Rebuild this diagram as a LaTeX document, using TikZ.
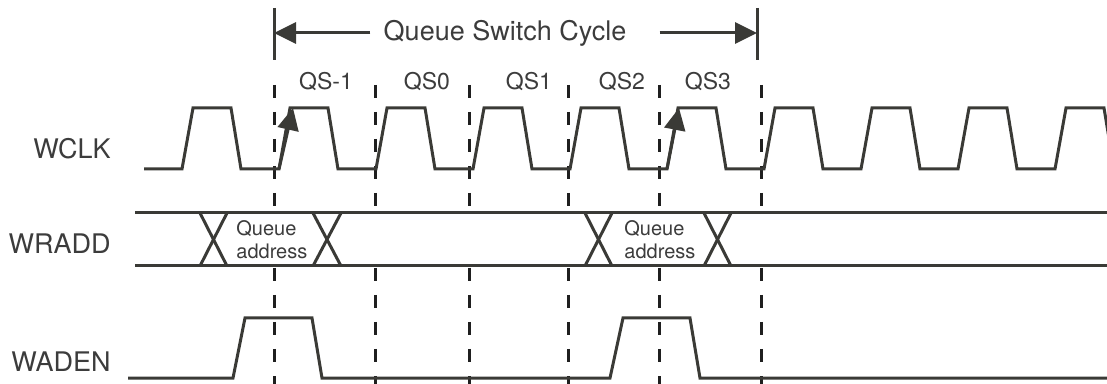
\documentclass[tikz,border=0pt]{standalone}
\usepackage{fontspec}
\setmainfont{TeX Gyre Heros}
\usetikzlibrary{arrows.meta, positioning, calc}
\definecolor{inkgray}{HTML}{3A3A36}
\definecolor{txtgray}{HTML}{3C3C3C}

\begin{document}
\begin{tikzpicture}[
      x=0.5pt, y=-0.5pt,
      wave/.style={draw=inkgray, line width=1.5pt, line join=miter},
      guide/.style={draw=black!88, line width=1.5pt, dash pattern=on 6.5pt off 7pt},
      signame/.style={anchor=east, inner sep=0pt, text=txtgray, font=\fontsize{13.5}{16}\selectfont},
      title/.style={anchor=base, inner sep=0pt, text=txtgray, font=\fontsize{13.5}{16}\selectfont},
      slot/.style={anchor=base, inner sep=0pt, text=txtgray, font=\fontsize{11.5}{14}\selectfont},
      busval/.style={anchor=west, inner sep=0pt, align=left, text=txtgray, font=\fontsize{10}{11.5}\selectfont},
      arrow/.style={wave, -{Triangle[length=11pt, width=10.5pt]}}
    ]
    \clip (0,0) rectangle (1107,384);

    \node[signame] (wclk) at (111,149) {WCLK};
    \node[signame] (wradd) at (111,244) {WRADD};
    \node[signame] (waden) at (111,362) {WADEN};

    \node[title] (cycle) at (505,41) {Queue Switch Cycle};
    \coordinate (cycL) at (274,33);
    \coordinate (cycR) at (757,33);
    \draw[wave] (274,8) -- (274,60);
    \draw[wave] (757,8) -- (757,60);
    \draw[arrow] ([xshift=-6.5pt]cycle.west |- cycL) -- (cycL);
    \draw[arrow] ([xshift=16.5pt]cycle.east |- cycR) -- (cycR);

    \node[slot] (qsm1) at (326,90) {QS-1};
    \node[slot] (qs0) at (427,90) {QS0};
    \node[slot] (qs1) at (529,90) {QS1};
    \node[slot] (qs2) at (622,90) {QS2};
    \node[slot] (qs3) at (708,90) {QS3};

    \foreach \x in {274,375,469,568,659,761} {
      \draw[guide] (\x,85) -- (\x,210);
      \draw[guide] (\x,268) -- (\x,384);
    }

    \draw[wave] (144,169) foreach \k in {0,...,9} {
      -- ({182+97*\k},169) -- ({193+97*\k},108) -- ({231+97*\k},108) -- ({241+97*\k},169)
    };
    \coordinate (rise1) at (279,169);
    \coordinate (rise1tip) at (293,108);
    \coordinate (rise2) at (667,169);
    \coordinate (rise2tip) at (679,108);
    \draw[arrow] (rise1) -- (rise1tip);
    \draw[arrow] (rise2) -- (rise2tip);

    \draw[wave] (135,213) -- (1107,213);
    \draw[wave] (135,266) -- (1107,266);
    \foreach \a/\b in {200/227, 313/341, 585/612, 704/731} {
      \draw[wave] (\a,213) -- (\b,266);
      \draw[wave] (\a,266) -- (\b,213);
    }
    \node[busval] (qaddr1) at (236,240) {Queue\\address};
    \node[busval] (qaddr2) at (624,240) {Queue\\address};

    \draw[wave] (128,378) -- (233,378) -- (245,318) -- (312,318) -- (322,378)
      -- (610,378) -- (623,318) -- (690,318) -- (700,378) -- (1107,378);
  \end{tikzpicture}
\end{document}
